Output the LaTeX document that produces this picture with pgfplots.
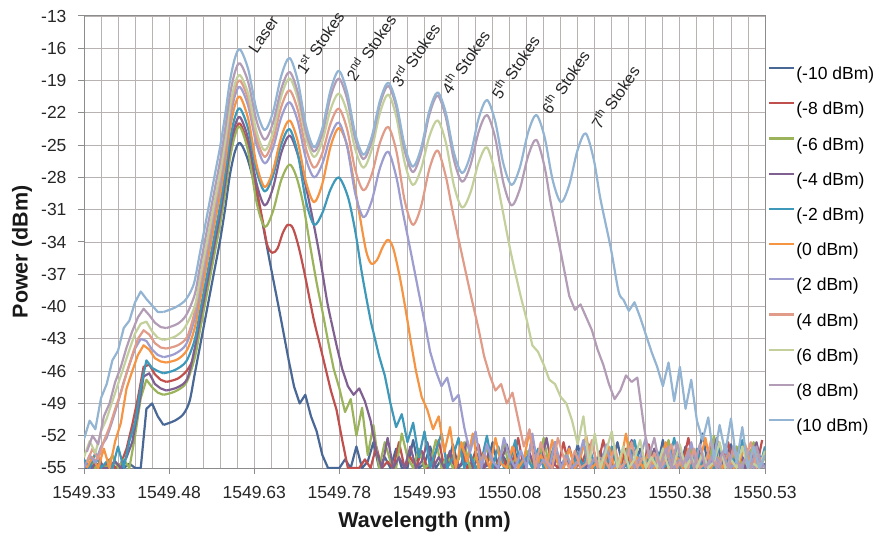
\documentclass[border=0pt]{standalone}
\usepackage{fontspec}
\setmainfont{Liberation Sans}
\usepackage{pgfplots}
\usepackage{pgfplotstable}
\pgfplotsset{compat=1.18}
\definecolor{c1}{HTML}{4A6896}
\definecolor{c2}{HTML}{C0504D}
\definecolor{c3}{HTML}{9BB35A}
\definecolor{c4}{HTML}{7F6090}
\definecolor{c5}{HTML}{3D98B9}
\definecolor{c6}{HTML}{F59443}
\definecolor{c7}{HTML}{9D9DCF}
\definecolor{c8}{HTML}{E09C88}
\definecolor{c9}{HTML}{C3D09C}
\definecolor{c10}{HTML}{B39DB6}
\definecolor{c11}{HTML}{93B4D2}
\definecolor{gridc}{HTML}{B8B2B2}
\definecolor{axisc}{HTML}{8C8C8C}
% x = wavelength - 1549 nm (tick labels give the full wavelength)
\pgfplotstableread{
x m10 m6 m2 p2 p6 p10
0.33 -55 -55 -54.2 -55 -54.0 -52.3
0.34 -55 -54 -55 -53.8 -52.5 -50.6
0.35 -54.5 -55 -53.6 -54.5 -53.6 -51.4
0.36 -55 -54.6 -55 -53.0 -51.6 -48.5
0.37 -55 -55 -54.4 -52.2 -50.4 -47.2
0.38 -54.8 -53.8 -55 -50.6 -48.8 -45.0
0.39 -55 -55 -53.0 -48.9 -47.2 -44.1
0.40 -55 -54.2 -55 -47.0 -45.6 -42.0
0.41 -54.6 -55 -52.5 -45.4 -44.0 -41.3
0.42 -55 -52 -50.8 -43.9 -42.5 -39.6
0.43 -55 -48.5 -47.5 -43.0 -41.6 -38.6
0.44 -49.5 -46.8 -45.0 -43.2 -41.4 -39.3
0.45 -49.0 -47.5 -45.7 -44.0 -42.3 -39.9
0.46 -50.2 -48.0 -46.0 -44.5 -42.9 -40.5
0.47 -51.0 -48.2 -46.2 -44.7 -43.1 -40.5
0.58 nan nan nan nan nan nan
0.69 -44.8 nan nan nan nan nan
0.70 -47.4 nan nan nan nan nan
0.71 -49.0 nan nan nan nan nan
0.72 -48.2 nan nan nan nan nan
0.73 -50.2 nan nan nan nan nan
0.74 -51.6 nan nan nan nan nan
0.75 -53.8 -40.4 nan nan nan nan
0.76 -55 -43.2 nan nan nan nan
0.77 -55 -45.8 nan nan nan nan
0.78 -55 -47.6 nan nan nan nan
0.79 -54.2 -49.8 nan nan nan nan
0.80 -55 -48.6 nan nan nan nan
0.81 -53.0 -52.0 nan nan nan nan
0.82 -55 -49.4 nan nan nan nan
0.83 -54.4 -53.8 nan nan nan nan
0.84 -52.6 -51.0 -42.4 nan nan nan
0.85 -55 -55 -44.6 nan nan nan
0.86 -54.0 -52.6 -46.4 nan nan nan
0.87 -55 -54.4 -49.0 nan nan nan
0.88 -53.2 -55 -51.2 nan nan nan
0.89 -55 -51.8 -50.0 nan nan nan
0.90 -55 -54.0 -52.6 nan nan nan
0.91 -52.4 -55 -50.8 nan nan nan
0.92 -55 -53.2 -54.0 nan nan nan
0.93 -54.6 -55 -51.6 -41.4 nan nan
0.94 -53.0 -54.6 -55 -44.2 nan nan
0.95 -55 -52.4 -53.4 -46.0 nan nan
0.96 -54.2 -55 -51.8 -47.4 nan nan
0.97 -55 -53.8 -55 -46.6 nan nan
0.98 -52.8 -55 -54.0 -48.8 nan nan
0.99 -55 -54.2 -52.2 -48.2 nan nan
1.00 -54.4 -52.6 -55 -51.2 nan nan
1.01 -55 -55 -53.6 -53.6 nan nan
1.02 -53.4 -54.0 -55 -51.6 nan nan
1.03 -55 -55 -54.4 -55 nan nan
1.04 -54.8 -53.0 -52.0 -52.8 nan nan
1.05 -52.6 -55 -55 -54.4 nan nan
1.06 -55 -54.6 -53.0 -55 nan nan
1.07 -54.0 -52.8 -55 -52.2 nan nan
1.08 -55 -55 -54.6 -54.0 nan nan
1.09 -53.6 -54.2 -52.4 -55 nan nan
1.10 -55 -55 -55 -53.4 nan nan
1.11 -54.6 -53.4 -54.0 -55 -41.2 nan
1.12 -52.2 -55 -55 -51.8 -43.6 nan
1.13 -55 -54.8 -53.2 -55 -44.2 nan
1.14 -54.0 -52.2 -55 -54.2 -45.4 nan
1.15 -55 -55 -54.4 -55 -46.8 nan
1.16 -53.0 -54.0 -52.6 -52.6 -47.2 nan
1.17 -55 -55 -55 -55 -48.4 nan
1.18 -54.4 -53.6 -54.0 -53.8 -49.0 nan
1.19 -55 -55 -55 -55 -50.6 nan
1.20 -52.8 -54.4 -53.6 -54.4 -52.8 nan
1.21 -55 -52.8 -55 -52.4 -50.2 nan
1.22 -54.2 -55 -52.8 -55 -54.6 nan
1.23 -55 -54.0 -55 -54.0 -51.8 nan
1.24 -53.4 -55 -54.2 -55 -55 nan
1.25 -55 -53.0 -55 -52.8 -53.4 nan
1.26 -54.8 -55 -53.0 -55 -51.6 nan
1.27 -52.6 -54.6 -55 -54.6 -55 nan
1.28 -55 -55 -54.6 -55 -53.0 -39.3
1.29 -54.0 -52.6 -55 -53.2 -55 -40.4
1.30 -55 -55 -52.4 -55 -54.2 -39.6
1.31 -53.2 -54.2 -55 -54.0 -52.4 -41.0
1.32 -55 -55 -54.0 -52.2 -55 -42.6
1.33 -54.6 -53.4 -55 -55 -54.0 -44.2
1.34 -55 -55 -53.4 -54.4 -55 -45.6
1.35 -52.4 -54.8 -55 -55 -53.2 -47.4
1.36 -55 -52.4 -54.6 -53.0 -55 -45.2
1.37 -54.0 -55 -52.2 -55 -54.6 -48.8
1.38 -55 -54.0 -55 -54.2 -52.8 -45.6
1.39 -53.0 -55 -54.0 -55 -55 -49.5
1.40 -55 -53.2 -55 -52.6 -54.0 -46.8
1.41 -54.4 -55 -53.2 -55 -55 -50.6
1.42 -51.8 -54.4 -55 -54.0 -53.6 -52.4
1.43 -55 -55 -54.4 -55 -55 -50.3
1.44 -53.6 -52.0 -55 -53.4 -54.4 -54.2
1.45 -55 -55 -52.8 -55 -52.6 -51.0
1.46 -54.2 -54.6 -55 -52.8 -55 -53.6
1.47 -52.8 -55 -53.8 -55 -54.2 -50.4
1.48 -55 -53.0 -55 -54.4 -55 -54.5
1.49 -54.0 -55 -52.4 -55 -53.0 -51.2
1.50 -55 -54.2 -55 -53.2 -55 -55
1.51 -53.4 -52.6 -54.2 -55 -54.6 -53.0
1.52 -55 -55 -55 -54.0 -55 -55
1.53 -54.6 -54.0 -53.0 -55 -53.4 -53.8
}\tabA
\pgfplotstableread{
x m8 m4 z0 p4 p8
0.335 -55 -55 -55 -54.5 -53.5
0.345 -54.5 -55 -54 -53.2 -52.0
0.355 -55 -54.0 -55 -54.2 -52.8
0.365 -55 -55 -53.2 -52.5 -50.2
0.375 -54.2 -55 -55 -51.2 -49.0
0.385 -55 -54.4 -52.5 -49.5 -47.0
0.395 -54.6 -55 -50.8 -48.0 -45.6
0.405 -53.2 -54.0 -47.6 -46.2 -43.8
0.415 -51.0 -52.6 -46.0 -44.5 -42.3
0.425 -48.5 -49.8 -44.5 -43.0 -41.0
0.435 -45.6 -46.5 -43.6 -42.2 -40.2
0.445 -45.4 -46.2 -44.0 -42.6 -40.8
0.455 -46.3 -47.2 -44.8 -43.4 -41.5
0.465 -46.8 -47.6 -45.1 -43.8 -41.9
0.475 -47.0 -47.8 -45.2 -43.9 -42.0
0.600 nan nan nan nan nan
0.745 -43.4 nan nan nan nan
0.755 -45.6 nan nan nan nan
0.765 -47.8 -41.2 nan nan nan
0.775 -49.6 -43.6 nan nan nan
0.785 -52.4 -45.8 nan nan nan
0.795 -55 -47.4 nan nan nan
0.805 -55 -48.2 nan nan nan
0.815 -55 -47.6 nan nan nan
0.825 -54.2 -48.8 nan nan nan
0.835 -55 -50.6 nan nan nan
0.845 -53.0 -53.4 nan nan nan
0.855 -55 -55 nan nan nan
0.865 -54.4 -52.2 nan nan nan
0.875 -55 -55 nan nan nan
0.885 -52.6 -54.0 nan nan nan
0.895 -55 -55 nan nan nan
0.905 -54.0 -53.0 -43.0 nan nan
0.915 -55 -55 -46.0 nan nan
0.925 -53.4 -54.4 -48.4 nan nan
0.935 -55 -52.6 -49.6 nan nan
0.945 -54.6 -55 -51.4 nan nan
0.955 -52.4 -54.0 -50.2 nan nan
0.965 -55 -55 -53.5 nan nan
0.975 -54.0 -53.4 -51.2 nan nan
0.985 -55 -55 -55 nan nan
0.995 -53.2 -54.6 -52.6 nan nan
1.005 -55 -52.4 -54.4 nan nan
1.015 -54.4 -55 -51.8 nan nan
1.025 -52.8 -54.0 -55 -42.0 nan
1.035 -55 -55 -53.6 -44.6 nan
1.045 -54.0 -53.2 -55 -46.4 nan
1.055 -55 -55 -52.2 -47.8 nan
1.065 -53.6 -54.4 -54.6 -47.2 nan
1.075 -55 -52.8 -55 -49.0 nan
1.085 -54.6 -55 -53.0 -48.0 nan
1.095 -52.2 -54.0 -55 -50.5 nan
1.105 -55 -55 -54.2 -53.0 nan
1.115 -54.0 -53.6 -51.6 -51.4 nan
1.125 -55 -55 -55 -55 nan
1.135 -53.0 -54.6 -53.8 -52.6 nan
1.145 -55 -52.2 -55 -54.4 nan
1.155 -54.4 -55 -52.4 -55 nan
1.165 -55 -54.0 -54.6 -52.2 nan
1.175 -52.6 -55 -55 -54.0 nan
1.185 -55 -53.0 -53.2 -55 -39.0
1.195 -54.0 -55 -55 -53.4 -40.3
1.205 -55 -54.4 -54.0 -55 -39.8
1.215 -53.4 -55 -52.0 -54.6 -41.0
1.225 -55 -52.6 -55 -52.4 -42.2
1.235 -54.8 -55 -54.4 -55 -44.0
1.245 -52.4 -54.0 -55 -54.0 -45.4
1.255 -55 -55 -53.0 -55 -47.2
1.265 -54.0 -53.4 -55 -53.0 -48.6
1.275 -55 -55 -54.6 -55 -47.8
1.285 -53.2 -54.8 -51.8 -54.4 -46.4
1.295 -55 -52.4 -55 -52.6 -47.0
1.305 -54.4 -55 -54.0 -55 -46.6
1.315 -55 -54.0 -55 -54.0 -50.5
1.325 -52.8 -55 -53.4 -55 -54.0
1.335 -55 -53.2 -55 -53.6 -52.2
1.345 -54.0 -55 -54.6 -55 -55
1.355 -55 -54.4 -52.6 -54.2 -53.2
1.365 -53.6 -55 -55 -52.8 -55
1.375 -55 -52.8 -54.0 -55 -52.6
1.385 -54.6 -55 -55 -54.0 -54.8
1.395 -52.2 -54.0 -53.2 -55 -53.4
1.405 -55 -55 -55 -53.2 -55
1.415 -54.0 -53.6 -54.4 -55 -52.8
1.425 -55 -55 -52.2 -54.6 -55
1.435 -53.0 -54.6 -55 -52.4 -54.0
1.445 -55 -52.2 -54.0 -55 -55
1.455 -54.4 -55 -55 -54.0 -53.5
1.465 -52.6 -54.0 -53.6 -55 -55
1.475 -55 -55 -55 -53.4 -52.9
1.485 -54.0 -53.0 -54.4 -55 -55
1.495 -55 -55 -52.8 -54.2 -54.2
1.505 -53.4 -54.4 -55 -52.6 -55
1.515 -55 -52.6 -53.8 -55 -53.0
1.525 -52.4 -55 -55 -54.0 -55
}\tabB
\begin{document}
\begin{tikzpicture}
\useasboundingbox (0,0) rectangle (877pt,543pt);
\begin{axis}[
  at={(84pt,75pt)}, anchor=south west,
  scale only axis, width=681pt, height=452pt,
  xmin=0.33, xmax=1.53, ymin=-55, ymax=-13,
  xtick={0.33,0.48,0.63,0.78,0.93,1.08,1.23,1.38,1.53},
  xticklabels={1549.33,1549.48,1549.63,1549.78,1549.93,1550.08,1550.23,1550.38,1550.53},
  minor x tick num=4,
  ytick={-55,-52,-49,-46,-43,-40,-37,-34,-31,-28,-25,-22,-19,-16,-13},
  yticklabels={-55,-52,-49,-46,-43,-40,-37,-34,-31,-28,-25,-22,-19,-16,-13},
  xmajorgrids=true, xminorgrids=true, ymajorgrids=true,
  major grid style={draw=gridc, line width=0.9pt},
  minor grid style={draw=gridc, line width=0.9pt},
  minor tick length=0pt, major tick length=6pt, tick align=outside, tick pos=left,
  axis line style={draw=axisc, line width=1pt},
  every tick/.style={draw=axisc, line width=1pt},
  tick label style={font=\fontsize{17.5}{20}\selectfont, text=black!85},
  xticklabel style={yshift=-9pt},
  yticklabel style={xshift=-8pt},
  xlabel={Wavelength (nm)}, ylabel={Power (dBm)},
  label style={font=\fontsize{21.5}{24}\selectfont\bfseries, text=black!90},
  xlabel style={at={(axis description cs:0.5,-0.1195)}, anchor=center},
  ylabel style={at={(axis description cs:-0.091,0.478)}, anchor=center},
  clip mode=individual,
  unbounded coords=jump,
  every axis plot/.append style={line width=2.2pt, line join=round, mark=none},
  legend style={at={(axis description cs:1.0,0.894)}, anchor=north west, draw=none, fill=none,
    font=\fontsize{17.5}{20}\selectfont, row sep=19pt, nodes={inner sep=1pt},
    /tikz/every even column/.append style={column sep=2pt}},
  legend cell align=left,
  legend image code/.code={\draw[#1, line width=2.2pt] (0pt,6pt) -- (25pt,6pt);},
]
% (-10 dBm)
\addplot[c1, smooth] coordinates {(0.470,-51.0) (0.490,-50.6) (0.505,-50.0) (0.516,-48.8) (0.525,-46.3) (0.534,-43.8) (0.543,-41.3) (0.552,-38.8) (0.561,-36.3) (0.570,-33.8) (0.579,-30.8) (0.587,-27.8) (0.596,-25.6) (0.605,-24.8) (0.619,-26.4) (0.637,-30.2) (0.658,-36.0) (0.675,-40.6) (0.690,-44.8)};
\addlegendentry{(-10 dBm)}
\addplot[c1, forget plot] table[x=x, y=m10] {\tabA};
% (-8 dBm)
\addplot[c2, smooth] coordinates {(0.475,-47.0) (0.495,-46.7) (0.512,-45.9) (0.525,-44.5) (0.534,-42.0) (0.543,-39.5) (0.552,-37.0) (0.561,-34.5) (0.570,-32.0) (0.579,-29.0) (0.587,-26.0) (0.596,-23.8) (0.605,-23.0) (0.619,-25.0) (0.631,-28.2) (0.644,-31.8) (0.653,-34.3) (0.662,-35.0) (0.671,-34.6) (0.680,-33.2) (0.689,-32.4) (0.698,-32.7) (0.708,-34.4) (0.719,-37.0) (0.734,-41.0) (0.745,-43.4)};
\addlegendentry{(-8 dBm)}
\addplot[c2, forget plot] table[x=x, y=m8] {\tabB};
% (-6 dBm)
\addplot[c3, smooth] coordinates {(0.470,-48.2) (0.490,-47.9) (0.510,-47.1) (0.525,-44.8) (0.534,-42.3) (0.543,-39.8) (0.552,-37.3) (0.561,-34.8) (0.570,-32.3) (0.579,-29.3) (0.587,-26.3) (0.596,-24.1) (0.605,-23.3) (0.6195,-25.63) (0.634,-30.28) (0.6485,-32.6) (0.663,-31.15) (0.6775,-28.25) (0.692,-26.8) (0.704,-27.9) (0.716,-30.4) (0.728,-34.2) (0.740,-37.8) (0.750,-40.4)};
\addlegendentry{(-6 dBm)}
\addplot[c3, forget plot] table[x=x, y=m6] {\tabA};
% (-4 dBm)
\addplot[c4, smooth] coordinates {(0.475,-47.8) (0.495,-47.5) (0.512,-46.7) (0.525,-43.9) (0.534,-41.4) (0.543,-38.9) (0.552,-36.4) (0.561,-33.9) (0.570,-31.4) (0.579,-28.4) (0.587,-25.4) (0.596,-23.2) (0.605,-22.4) (0.6195,-24.45) (0.634,-28.55) (0.6485,-30.6) (0.663,-28.98) (0.6775,-25.73) (0.692,-24.1) (0.705,-25.6) (0.719,-28.4) (0.732,-31.6) (0.746,-35.5) (0.758,-39.4) (0.765,-41.2)};
\addlegendentry{(-4 dBm)}
\addplot[c4, forget plot] table[x=x, y=m4] {\tabB};
% (-2 dBm)
\addplot[c5, smooth] coordinates {(0.470,-46.2) (0.490,-45.9) (0.510,-45.1) (0.525,-43.1) (0.534,-40.6) (0.543,-38.1) (0.552,-35.6) (0.561,-33.1) (0.570,-30.6) (0.579,-27.6) (0.587,-24.6) (0.596,-22.4) (0.605,-21.6) (0.6195,-23.53) (0.634,-27.38) (0.6485,-29.3) (0.663,-27.85) (0.6775,-24.95) (0.692,-23.5) (0.7065,-25.73) (0.721,-30.18) (0.7355,-32.4) (0.750,-31.3) (0.7645,-29.1) (0.779,-28.0) (0.795,-29.8) (0.808,-33.0) (0.820,-37.0) (0.834,-41.0) (0.840,-42.4)};
\addlegendentry{(-2 dBm)}
\addplot[c5, forget plot] table[x=x, y=m2] {\tabA};
% (0 dBm)
\addplot[c6, smooth] coordinates {(0.475,-45.2) (0.495,-44.9) (0.512,-44.0) (0.525,-42.0) (0.534,-39.5) (0.543,-37.0) (0.552,-34.5) (0.561,-32.0) (0.570,-29.5) (0.579,-26.5) (0.587,-23.5) (0.596,-21.3) (0.605,-20.5) (0.6195,-22.6) (0.634,-26.8) (0.6485,-28.9) (0.663,-27.35) (0.6775,-24.25) (0.692,-22.7) (0.7065,-24.6) (0.721,-28.4) (0.7355,-30.3) (0.750,-28.58) (0.7645,-25.13) (0.779,-23.4) (0.7935,-25.0) (0.805,-28.2) (0.816,-31.6) (0.827,-34.8) (0.836,-36.0) (0.846,-35.7) (0.857,-34.4) (0.866,-33.8) (0.875,-34.6) (0.887,-37.4) (0.899,-41.0) (0.905,-43.0)};
\addlegendentry{(0 dBm)}
\addplot[c6, forget plot] table[x=x, y=z0] {\tabB};
% (2 dBm)
\addplot[c7, smooth] coordinates {(0.470,-44.7) (0.490,-44.4) (0.510,-43.5) (0.525,-41.1) (0.534,-38.6) (0.543,-36.1) (0.552,-33.6) (0.561,-31.1) (0.570,-28.6) (0.579,-25.6) (0.587,-22.6) (0.596,-20.4) (0.605,-19.6) (0.6195,-21.38) (0.634,-24.93) (0.6485,-26.7) (0.663,-25.28) (0.6775,-22.43) (0.692,-21.0) (0.7065,-22.75) (0.721,-26.25) (0.7355,-28.0) (0.750,-26.73) (0.7645,-24.18) (0.779,-22.9) (0.7935,-25.1) (0.808,-29.5) (0.8225,-31.7) (0.837,-30.18) (0.8515,-27.13) (0.866,-25.6) (0.8805,-28.0) (0.891,-31.0) (0.905,-34.7) (0.921,-39.0) (0.930,-41.4)};
\addlegendentry{(2 dBm)}
\addplot[c7, forget plot] table[x=x, y=p2] {\tabA};
% (4 dBm)
\addplot[c8, smooth] coordinates {(0.475,-43.9) (0.495,-43.6) (0.512,-42.8) (0.525,-40.5) (0.534,-38.0) (0.543,-35.5) (0.552,-33.0) (0.561,-30.5) (0.570,-28.0) (0.579,-25.0) (0.587,-22.0) (0.596,-19.8) (0.605,-19.0) (0.6195,-20.78) (0.634,-24.33) (0.6485,-26.1) (0.663,-24.55) (0.6775,-21.45) (0.692,-19.9) (0.7065,-21.7) (0.721,-25.3) (0.7355,-27.1) (0.750,-25.73) (0.7645,-22.98) (0.779,-21.6) (0.7935,-23.5) (0.808,-27.3) (0.8225,-29.2) (0.837,-27.73) (0.8515,-24.78) (0.866,-23.3) (0.8805,-25.58) (0.895,-30.13) (0.9095,-32.4) (0.924,-30.68) (0.9385,-27.23) (0.953,-25.5) (0.9675,-27.9) (0.979,-31.0) (0.994,-34.7) (1.011,-38.8) (1.025,-42.0)};
\addlegendentry{(4 dBm)}
\addplot[c8, forget plot] table[x=x, y=p4] {\tabB};
% (6 dBm)
\addplot[c9, smooth] coordinates {(0.470,-43.1) (0.490,-42.8) (0.507,-42.0) (0.525,-40.0) (0.534,-37.5) (0.543,-35.0) (0.552,-32.5) (0.561,-30.0) (0.570,-27.5) (0.579,-24.5) (0.587,-21.5) (0.596,-19.3) (0.605,-18.5) (0.6195,-20.25) (0.634,-23.75) (0.6485,-25.5) (0.663,-23.83) (0.6775,-20.48) (0.692,-18.8) (0.7065,-20.63) (0.721,-24.28) (0.7355,-26.1) (0.750,-24.63) (0.7645,-21.68) (0.779,-20.2) (0.7935,-21.93) (0.808,-25.38) (0.8225,-27.1) (0.837,-25.4) (0.8515,-22.0) (0.866,-20.3) (0.8805,-22.4) (0.895,-26.6) (0.9095,-28.7) (0.924,-27.2) (0.9385,-24.2) (0.953,-22.7) (0.9675,-24.73) (0.982,-28.78) (0.9965,-30.8) (1.011,-29.4) (1.0255,-26.6) (1.040,-25.2) (1.0545,-27.6) (1.066,-30.6) (1.081,-34.7) (1.098,-38.7) (1.110,-41.2)};
\addlegendentry{(6 dBm)}
\addplot[c9, forget plot] table[x=x, y=p6] {\tabA};
% (8 dBm)
\addplot[c10, smooth] coordinates {(0.475,-42.0) (0.495,-41.6) (0.510,-40.8) (0.525,-38.9) (0.534,-36.4) (0.543,-33.9) (0.552,-31.4) (0.561,-28.9) (0.570,-26.4) (0.579,-23.4) (0.587,-20.4) (0.596,-18.2) (0.605,-17.4) (0.6195,-19.18) (0.634,-22.73) (0.6485,-24.5) (0.663,-22.93) (0.6775,-19.78) (0.692,-18.2) (0.7065,-20.05) (0.721,-23.75) (0.7355,-25.6) (0.750,-23.9) (0.7645,-20.5) (0.779,-18.8) (0.7935,-20.68) (0.808,-24.43) (0.8225,-26.3) (0.837,-24.6) (0.8515,-21.2) (0.866,-19.5) (0.8805,-21.5) (0.895,-25.5) (0.9095,-27.5) (0.924,-25.73) (0.9385,-22.18) (0.953,-20.4) (0.9675,-22.4) (0.982,-26.4) (0.9965,-28.4) (1.011,-26.85) (1.0255,-23.75) (1.040,-22.2) (1.0545,-24.3) (1.069,-28.5) (1.0835,-30.6) (1.098,-29.08) (1.1125,-26.03) (1.127,-24.5) (1.1415,-27.0) (1.153,-30.5) (1.171,-35.2) (1.185,-39.0)};
\addlegendentry{(8 dBm)}
\addplot[c10, forget plot] table[x=x, y=p8] {\tabB};
% (10 dBm)
\addplot[c11, smooth] coordinates {(0.470,-40.5) (0.490,-40.1) (0.507,-39.5) (0.518,-38.6) (0.525,-37.6) (0.534,-35.1) (0.543,-32.6) (0.552,-30.1) (0.561,-27.6) (0.570,-25.1) (0.579,-22.1) (0.587,-19.1) (0.596,-16.9) (0.605,-16.1) (0.6195,-17.98) (0.634,-21.73) (0.6485,-23.6) (0.663,-21.93) (0.6775,-18.58) (0.692,-16.9) (0.7065,-18.98) (0.721,-23.13) (0.7355,-25.2) (0.750,-23.43) (0.7645,-19.88) (0.779,-18.1) (0.7935,-20.05) (0.808,-23.95) (0.8225,-25.9) (0.837,-24.23) (0.8515,-20.88) (0.866,-19.2) (0.8805,-21.15) (0.895,-25.05) (0.9095,-27.0) (0.924,-25.28) (0.9385,-21.83) (0.953,-20.1) (0.9675,-21.98) (0.982,-25.73) (0.9965,-27.6) (1.011,-25.9) (1.0255,-22.5) (1.040,-20.8) (1.0545,-22.78) (1.069,-26.73) (1.0835,-28.7) (1.098,-27.08) (1.1125,-23.83) (1.127,-22.2) (1.1415,-24.23) (1.156,-28.28) (1.1705,-30.3) (1.185,-28.7) (1.1995,-25.5) (1.214,-23.9) (1.2285,-26.4) (1.240,-30.0) (1.258,-34.5) (1.272,-38.6) (1.280,-39.3)};
\addlegendentry{(10 dBm)}
\addplot[c11, forget plot] table[x=x, y=p10] {\tabA};
% annotations
\begin{scope}[every node/.style={rotate=56, anchor=south west, inner sep=0pt, font=\fontsize{16}{18}\selectfont, text=black!85}]
\node at (axis cs:0.635,-16.6) {Laser};
\node at (axis cs:0.720,-18.6) {1\textsuperscript{st} Stokes};
\node at (axis cs:0.808,-19.2) {2\textsuperscript{nd} Stokes};
\node at (axis cs:0.888,-19.8) {3\textsuperscript{rd} Stokes};
\node at (axis cs:0.976,-20.4) {4\textsuperscript{th} Stokes};
\node at (axis cs:1.064,-20.9) {5\textsuperscript{th} Stokes};
\node at (axis cs:1.152,-22.3) {6\textsuperscript{th} Stokes};
\node at (axis cs:1.240,-23.7) {7\textsuperscript{th} Stokes};
\end{scope}
\end{axis}
\end{tikzpicture}
\end{document}
